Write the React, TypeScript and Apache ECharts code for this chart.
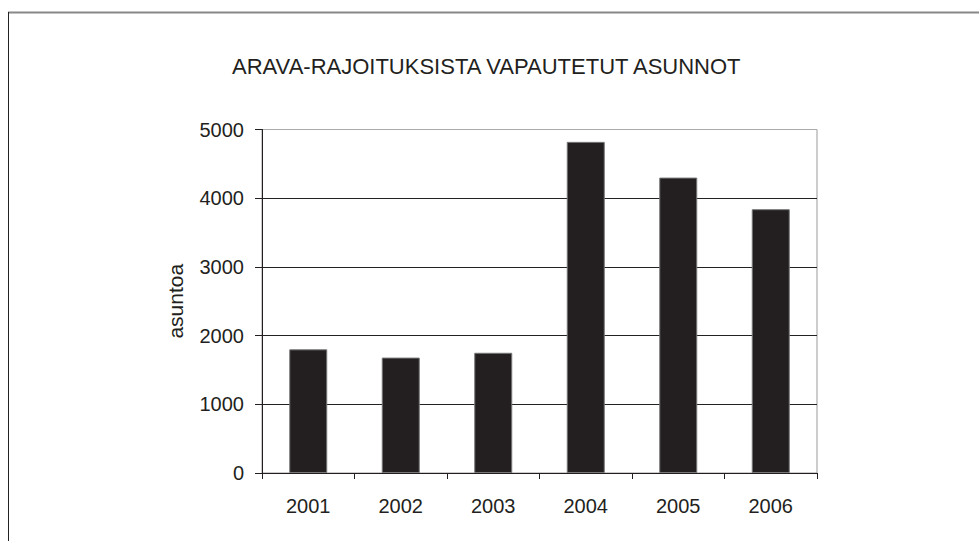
import React, { useEffect, useRef } from "react";
import * as echarts from "echarts";

const titleText = "ARAVA-RAJOITUKSISTA VAPAUTETUT ASUNNOT";
const yAxisName = "asuntoa";
const years = ["2001", "2002", "2003", "2004", "2005", "2006"];
const values = [1800, 1680, 1750, 4820, 4300, 3840];

const FONT = "'Liberation Sans', Arial, sans-serif";
const INK = "#231f20";

export default function App() {
  const ref = useRef<HTMLDivElement>(null);
  useEffect(() => {
    if (!ref.current) return;
    const chart = echarts.init(ref.current, null, { renderer: "svg" });
    chart.setOption({
      animation: false,
      backgroundColor: "#ffffff",
      textStyle: { fontFamily: FONT, color: INK },
      title: {
        text: titleText,
        left: 227,
        top: 50,
        textStyle: { fontFamily: FONT, fontSize: 22, fontWeight: "normal", color: INK },
      },
      graphic: [
        { type: "line", shape: { x1: 8, y1: 12.5, x2: 979, y2: 12.5 }, style: { stroke: "#888", lineWidth: 2 } },
        { type: "line", shape: { x1: 8.5, y1: 12, x2: 8.5, y2: 541 }, style: { stroke: "#222", lineWidth: 1 } },
      ],
      grid: {
        left: 262,
        right: 162,
        top: 129.5,
        bottom: 68,
        show: true,
        borderColor: "#999",
        borderWidth: 1,
        backgroundColor: "transparent",
      },
      xAxis: {
        type: "category",
        data: years,
        axisLine: { show: true, lineStyle: { color: INK, width: 1 } },
        axisTick: { show: true, alignWithLabel: false, length: 6, lineStyle: { color: INK } },
        axisLabel: { fontFamily: FONT, fontSize: 20, color: INK, margin: 23 },
        splitLine: { show: false },
      },
      yAxis: {
        type: "value",
        min: 0,
        max: 5000,
        interval: 1000,
        name: yAxisName,
        nameLocation: "middle",
        nameGap: 76,
        nameTextStyle: { fontFamily: FONT, fontSize: 21, color: INK },
        axisLine: { show: true, lineStyle: { color: INK, width: 1 } },
        axisTick: { show: true, length: 7, lineStyle: { color: INK } },
        axisLabel: {
          fontFamily: FONT,
          fontSize: 20,
          color: INK,
          margin: 18,
          formatter: (v: number) => String(v),
        },
        splitLine: {
          show: true,
          lineStyle: { color: ["#222", "#222", "#222", "#222", "#222", "#aaa"], width: 1 },
        },
      },
      series: [
        {
          type: "bar",
          data: values,
          barWidth: 38,
          itemStyle: { color: INK, borderColor: "#777", borderWidth: 1 },
        },
      ],
    });
    return () => chart.dispose();
  }, []);
  return (
    <div
      ref={ref}
      style={{ position: "fixed", left: 0, top: 0, width: 979, height: 541 }}
    />
  );
}
